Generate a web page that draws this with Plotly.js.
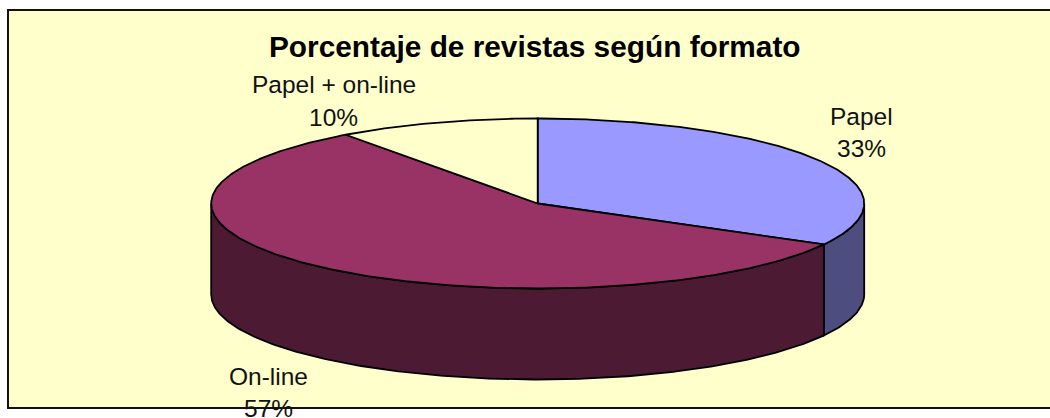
<!DOCTYPE html>
<html>
<head>
<meta charset="utf-8">
<script src="https://cdn.plot.ly/plotly-3.0.1.min.js"></script>
<style>html,body{margin:0;padding:0;background:#fff}#chart{width:1050px;height:418px}</style>
</head>
<body>
<div id="chart"></div>
<script>
const categories = ['Papel', 'On-line', 'Papel + on-line'];
const shares = [33, 57, 10];
const chartTitle = 'Porcentaje de revistas según formato';

const topColors = ['#9999FF', '#993366', '#FFFFCC'];
const sideColors = ['#4D4D80', '#4D1A33', '#80805F'];
const labelAnchors = [[861, 116, 148], [268.5, 376, 408], [333.5, 84, 117]];

const cx = 537.7, cy = 203.5, rx = 326.5, ry = 85, depth = 91;
const total = shares.reduce((a, b) => a + b, 0);
const px = a => cx + rx * Math.sin(a);
const py = a => cy - ry * Math.cos(a);
const arc = (a0, a1) => {
  const n = Math.max(2, Math.ceil(Math.abs(a1 - a0) / 0.01));
  return Array.from({length: n + 1}, (_, i) => a0 + (a1 - a0) * i / n);
};

const outline = {color: '#000', width: 1.8};
const traces = [];
let start = 0;
const spans = shares.map(v => { const s = [start, start + v / total * 2 * Math.PI]; start = s[1]; return s; });

// side walls: only the front half of the rim (pi/2 .. 3pi/2) is visible
spans.forEach((s, i) => {
  const a0 = Math.max(s[0], Math.PI / 2), a1 = Math.min(s[1], 3 * Math.PI / 2);
  if (a1 <= a0) return;
  const front = arc(a0, a1), back = front.slice().reverse();
  traces.push({
    type: 'scatter', mode: 'lines', fill: 'toself', fillcolor: sideColors[i], line: outline, hoverinfo: 'skip',
    x: front.map(px).concat(back.map(px), [px(a0)]),
    y: front.map(py).concat(back.map(a => py(a) + depth), [py(a0)])
  });
});
// top faces
spans.forEach((s, i) => {
  const a = arc(s[0], s[1]);
  traces.push({
    type: 'scatter', mode: 'lines', fill: 'toself', fillcolor: topColors[i], line: outline,
    name: categories[i], text: shares[i] + '%', hoverinfo: 'name+text',
    x: [cx].concat(a.map(px), [cx]),
    y: [cy].concat(a.map(py), [cy])
  });
});

const labelFont = {family: 'Liberation Sans, Arial, sans-serif', size: 24.5, color: '#111'};
const annotations = [{
  text: '<b>' + chartTitle + '</b>', x: 534.5, y: 46, xref: 'x', yref: 'y', showarrow: false,
  xanchor: 'center', yanchor: 'middle', font: {family: 'Liberation Sans, Arial, sans-serif', size: 29.8, color: '#000'}
}];
categories.forEach((c, i) => {
  const [x, y1, y2] = labelAnchors[i];
  annotations.push({text: c, x, y: y1, xref: 'x', yref: 'y', showarrow: false, xanchor: 'center', yanchor: 'middle', font: labelFont});
  annotations.push({text: shares[i] + '%', x, y: y2, xref: 'x', yref: 'y', showarrow: false, xanchor: 'center', yanchor: 'middle', font: labelFont});
});

const hiddenAxis = {visible: false, fixedrange: true, showgrid: false, zeroline: false};
Plotly.newPlot('chart', traces, {
  width: 1050, height: 418,
  margin: {l: 0, r: 0, t: 0, b: 0},
  paper_bgcolor: '#fff', plot_bgcolor: 'rgba(0,0,0,0)',
  showlegend: false,
  xaxis: Object.assign({range: [0, 1050]}, hiddenAxis),
  yaxis: Object.assign({range: [418, 0]}, hiddenAxis),
  shapes: [{type: 'rect', layer: 'below', xref: 'x', yref: 'y', x0: 8, y0: 10, x1: 1060, y1: 408,
    fillcolor: '#FFFFCC', line: {color: '#111', width: 2}}],
  annotations
}, {displayModeBar: false, responsive: false});
</script>
</body>
</html>
